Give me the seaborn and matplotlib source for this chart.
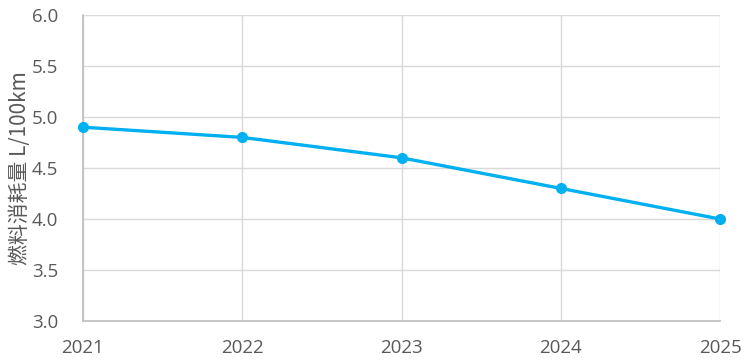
import matplotlib
matplotlib.use("Agg")
import matplotlib.pyplot as plt
import seaborn as sns
import pandas as pd

years = [2021, 2022, 2023, 2024, 2025]
fuel = [4.9, 4.8, 4.6, 4.3, 4.0]
y_ticks = [3.0, 3.5, 4.0, 4.5, 5.0, 5.5, 6.0]
y_label = "燃料消耗量 L/100km"

sns.set_theme(style="white")
plt.rcParams['font.family'] = ['Open Sans', 'Noto Sans CJK JP', 'DejaVu Sans']

df = pd.DataFrame({"year": years, "fuel": fuel})

fig = plt.figure(figsize=(7.5, 3.64), dpi=100)
ax = fig.add_axes([83/750, 1-321/364, (720-83)/750, (321-15)/364])

sns.lineplot(data=df, x="year", y="fuel", ax=ax, color="#00B0F0",
             linewidth=2.4, marker="o", markersize=8, markeredgewidth=0,
             clip_on=False, zorder=5)

ax.set_xlim(years[0], years[-1])
ax.set_ylim(y_ticks[0], y_ticks[-1])
ax.set_xticks(years)
ax.set_xticklabels([str(y) for y in years])
ax.set_yticks(y_ticks)
ax.set_yticklabels([f"{v:.1f}" for v in y_ticks])
ax.grid(True, color="#D9D9D9", linewidth=1)
ax.set_axisbelow(True)
for s in ax.spines.values():
    s.set_visible(False)
ax.spines['left'].set_visible(True)
ax.spines['left'].set_color("#BFBFBF")
ax.spines['bottom'].set_visible(True)
ax.spines['bottom'].set_color("#BFBFBF")
ax.tick_params(axis='both', length=0, labelsize=13.5, colors="#595959")
ax.tick_params(axis='x', pad=13)
ax.tick_params(axis='y', pad=18)
ax.set_xlabel("")
ax.set_ylabel(y_label, fontsize=15, color="#595959",
              family=['Noto Sans CJK JP', 'DejaVu Sans'])
ax.yaxis.set_label_coords((20 - 83) / 637, 0.5)
ax.yaxis.label.set_verticalalignment("center")

fig.savefig("out.png", dpi=100)
